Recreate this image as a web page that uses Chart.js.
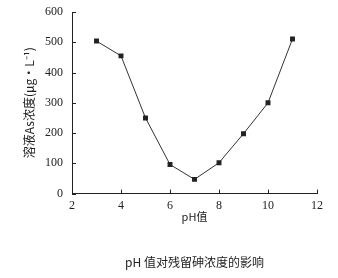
<!DOCTYPE html>
<html>
<head>
<meta charset="utf-8">
<script src="https://cdn.jsdelivr.net/npm/chart.js@4"></script>
<style>
  html, body { margin: 0; padding: 0; background: #fff; }
  #wrap { width: 338px; height: 278px; }
</style>
</head>
<body>
<div id="wrap"><canvas id="grafico" width="338" height="278"></canvas></div>
<script>
// dados
var phValores = [3, 4, 5, 6, 7, 8, 9, 10, 11];
var concAs = [504, 455, 250, 96, 47, 102, 198, 300, 511];
var xTicks = [2, 4, 6, 8, 10, 12];
var yTicks = [0, 100, 200, 300, 400, 500, 600];

var serif = "'Liberation Serif', 'DejaVu Serif', serif";
var cjk = "'Noto Sans CJK SC', sans-serif";

// marcas de escala para dentro do gráfico
const ticksDentro = {
  id: 'ticksDentro',
  afterDraw(chart) {
    const ctx = chart.ctx;
    const xs = chart.scales.x, ys = chart.scales.y;
    ctx.save();
    ctx.strokeStyle = '#222';
    ctx.lineWidth = 1;
    ctx.beginPath();
    xTicks.forEach(function (v) {
      var px = Math.round(xs.getPixelForValue(v)) + 0.5;
      ctx.moveTo(px, ys.bottom);
      ctx.lineTo(px, ys.bottom - 4);
    });
    yTicks.forEach(function (v) {
      var py = Math.round(ys.getPixelForValue(v)) + 0.5;
      ctx.moveTo(xs.left, py);
      ctx.lineTo(xs.left + 4, py);
    });
    ctx.stroke();
    ctx.restore();
  }
};

var dados = phValores.map(function (p, i) { return { x: p, y: concAs[i] }; });

var grafico = new Chart(document.getElementById('grafico').getContext('2d'), {
  type: 'line',
  data: {
    datasets: [{
      data: dados,
      borderColor: '#333',
      borderWidth: 1,
      backgroundColor: '#222',
      pointStyle: 'rect',
      pointRadius: 3.5,
      pointBorderWidth: 0,
      lineTension: 0
    }]
  },
  options: {
    responsive: false,
    animation: false,
    layout: { padding: { left: 0, right: 21, top: 12, bottom: 8 } },
    plugins: {
      legend: { display: false },
      tooltip: { enabled: false },
      title: {
        display: true,
        position: 'bottom',
        fullSize: false,
        text: 'pH 值对残留砷浓度的影响',
        color: '#222',
        font: { family: cjk, size: 12, weight: 'normal' },
        padding: { top: 32, bottom: 0 }
      }
    },
    scales: {
      x: {
        type: 'linear',
        min: 2, max: 12,
        afterBuildTicks: function (s) { s.ticks = xTicks.map(function (v) { return { value: v }; }); },
        afterFit: function (s) { s.height = 30; },
        grid: { display: true, drawOnChartArea: false, drawTicks: false },
        border: { color: '#222', width: 1 },
        ticks: { color: '#222', font: { family: serif, size: 12 }, padding: 5 },
        title: {
          display: true, text: 'pH值', color: '#222',
          font: { family: cjk, size: 11 }, padding: { top: 0, bottom: 0 }
        }
      },
      y: {
        min: 0, max: 600,
        afterBuildTicks: function (s) { s.ticks = yTicks.map(function (v) { return { value: v }; }); },
        afterFit: function (s) { s.width = 72; s.paddingTop = 0; s.paddingBottom = 0; },
        grid: { display: true, drawOnChartArea: false, drawTicks: false },
        border: { color: '#222', width: 1 },
        ticks: { color: '#222', font: { family: serif, size: 12 }, padding: 9 },
        title: {
          display: true, text: '溶液As浓度(μg·L⁻¹)', color: '#222',
          font: { family: cjk, size: 12 }, padding: { top: 22, bottom: 0 }
        }
      }
    }
  },
  plugins: [ticksDentro]
});
</script>
</body>
</html>
